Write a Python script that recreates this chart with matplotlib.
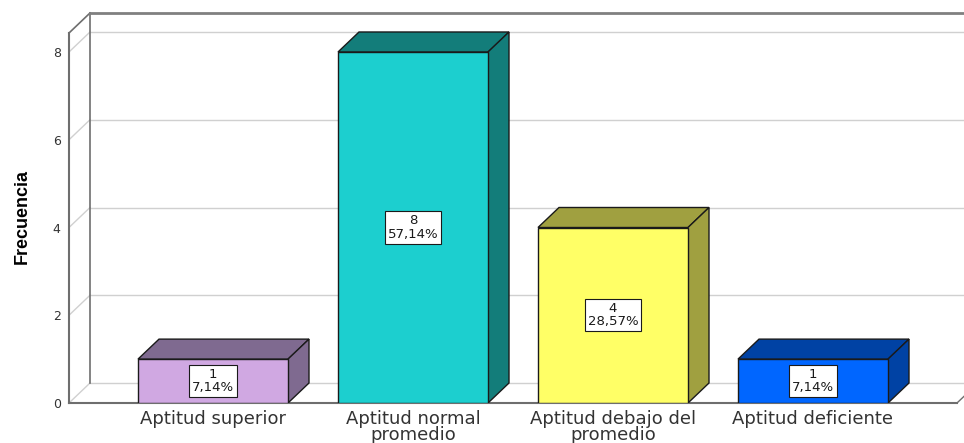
import matplotlib
matplotlib.use("Agg")
import matplotlib.pyplot as plt
from matplotlib.patches import Polygon, Rectangle

categorias = ["Aptitud superior", "Aptitud normal\npromedio",
              "Aptitud debajo del\npromedio", "Aptitud deficiente"]
frecuencias = [1, 8, 4, 1]
colores_frente = ["#D0A8E2", "#1CCFCF", "#FFFF66", "#0066FF"]
colores_lado = ["#7F6A90", "#137D7A", "#A0A040", "#0042A4"]
yticks = [0, 2, 4, 6, 8]

total = sum(frecuencias)
porcentajes = [f * 100 / total for f in frecuencias]

fig = plt.figure(figsize=(9.64, 4.43), dpi=100)
ax = fig.add_axes([69 / 964, 40 / 443, 895 / 964, 390 / 443])

# escala: 200 px por categoria, 43.875 px por unidad
xl, xr = -0.72, 3.755
ytop = 390 / 43.875
dx, dy = 21 / 200, 20 / 43.875
ancho = 0.75
xfin = 3.72

ax.set_xlim(xl, xr)
ax.set_ylim(0, ytop)
for s in ax.spines.values():
    s.set_visible(False)

gris = "#D0D0D0"
oscuro = "#6E6E6E"

# lineas de la grilla en la pared del fondo
for t in yticks[1:]:
    ax.plot([xl, xl + dx], [t, t + dy], color=gris, lw=1, zorder=1)
    ax.plot([xl + dx, xr + 1], [t + dy, t + dy], color=gris, lw=1, zorder=1)

# piso
ax.plot([xl, xl + dx], [0, dy], color=gris, lw=1, zorder=1)
ax.plot([xl + dx, xr + 1], [dy, dy], color=gris, lw=1, zorder=1)
ax.plot([xfin, xfin + dx], [0, dy], color=oscuro, lw=1, zorder=2, clip_on=False)
ax.plot([xl, xfin], [0, 0], color=oscuro, lw=1.5, zorder=2, clip_on=False)

# paredes
ax.plot([xl + dx, xl + dx], [dy, ytop], color=oscuro, lw=1.2, zorder=2, clip_on=False)
ax.plot([xl, xl], [0, ytop - dy], color=oscuro, lw=1.5, zorder=2, clip_on=False)
ax.plot([xl, xl + dx], [ytop - dy, ytop], color=oscuro, lw=1.2, zorder=2, clip_on=False)
ax.plot([xl + dx, xr + 1], [ytop, ytop], color="#808080", lw=2, zorder=2, clip_on=False)

# barras 3D
for i, (v, cf, cl) in enumerate(zip(frecuencias, colores_frente, colores_lado)):
    x0, x1 = i - ancho / 2, i + ancho / 2
    arriba = Polygon([(x0, v), (x0 + dx, v + dy), (x1 + dx, v + dy), (x1, v)],
                     closed=True, facecolor=cl, edgecolor="#1A1A1A", lw=1, zorder=3)
    lado = Polygon([(x1, 0), (x1 + dx, dy), (x1 + dx, v + dy), (x1, v)],
                   closed=True, facecolor=cl, edgecolor="#1A1A1A", lw=1, zorder=3)
    frente = Rectangle((x0, 0), ancho, v, facecolor=cf, edgecolor="#1A1A1A",
                       lw=1, zorder=4)
    ax.add_patch(arriba)
    ax.add_patch(lado)
    ax.add_patch(frente)
    txt = f"{v}\n{porcentajes[i]:.2f}%".replace(".", ",")
    ax.text(i, v / 2, txt, ha="center", va="center", fontsize=9.5,
            color="#1A1A1A", linespacing=1.05, zorder=5,
            bbox=dict(boxstyle="square,pad=0.22", facecolor="white",
                      edgecolor="#1A1A1A", lw=0.8))

ax.set_yticks(yticks)
ax.set_yticklabels([str(t) for t in yticks], fontsize=9, color="#333333")
ax.set_xticks(range(len(categorias)))
ax.set_xticklabels(categorias, fontsize=13, color="#333333", linespacing=0.85)
ax.tick_params(axis="y", length=0, pad=6)
ax.tick_params(axis="x", length=0, pad=5)

ax.set_ylabel("Frecuencia", fontsize=13, fontweight="bold",
              family=["Liberation Sans", "DejaVu Sans"])
ax.yaxis.set_label_coords(-0.043, 0.477)

fig.savefig("out.png", dpi=100)
